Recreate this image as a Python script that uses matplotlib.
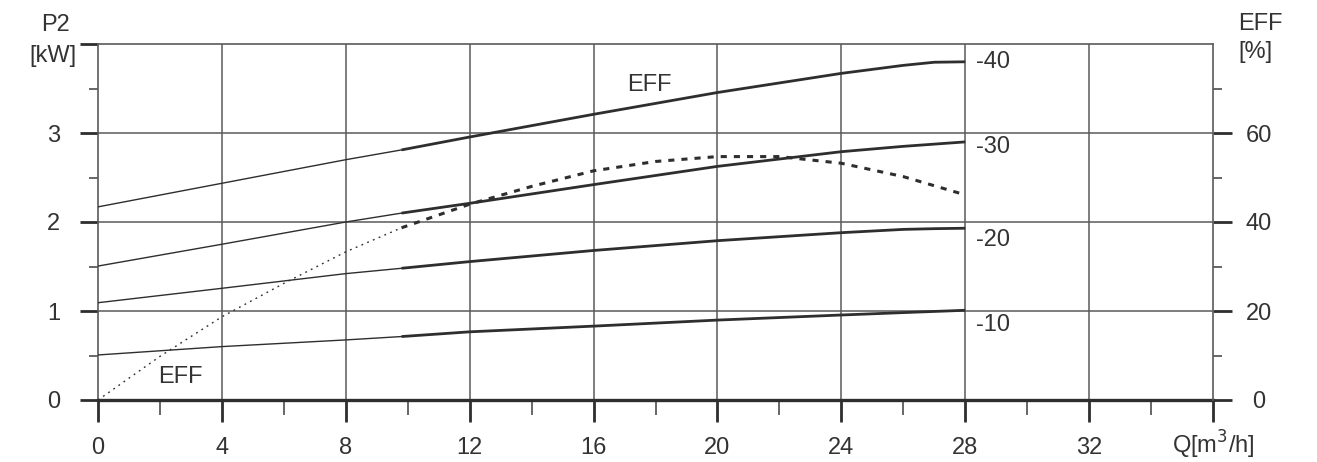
import numpy as np
import matplotlib
matplotlib.use("Agg")
import matplotlib.pyplot as plt
from matplotlib.ticker import FixedLocator

plt.rcParams['font.family'] = ['Liberation Sans', 'DejaVu Sans']

# flow Q [m3/h] where the power curves were read
q_p = [0, 4, 8, 9.8, 12, 16, 20, 24, 26, 27, 28]
p2_40 = [2.17, 2.435, 2.70, 2.81, 2.955, 3.21, 3.455, 3.67, 3.76, 3.795, 3.80]
p2_30 = [1.505, 1.75, 2.00, 2.10, 2.21, 2.42, 2.625, 2.79, 2.85, 2.875, 2.90]
p2_20 = [1.093, 1.255, 1.42, 1.48, 1.555, 1.68, 1.79, 1.88, 1.917, 1.925, 1.93]
p2_10 = [0.506, 0.60, 0.675, 0.713, 0.766, 0.83, 0.898, 0.955, 0.982, 0.995, 1.008]
curve_names = ['-40', '-30', '-20', '-10']
name_y = [3.80, 2.84, 1.80, 0.84]

# efficiency curve [%]
q_eff = [0, 2, 4, 6, 8, 9.8, 12, 14, 16, 18, 20, 22, 24, 26, 28]
eff = [0, 9.8, 18.7, 26.2, 33.3, 38.7, 44.0, 48.0, 51.5, 53.6, 54.7, 54.7, 53.2, 50.2, 46.1]

q_split = 9.8  # start of the working range (thick part)

x_ticks = list(range(0, 37, 4))
x_labels = [str(v) for v in range(0, 33, 4)] + ['']
p_ticks = [0, 1, 2, 3, 4]
p_labels = ['0', '1', '2', '3', '']
eff_ticks = [0, 20, 40, 60]
eff_labels = ['0', '20', '40', '60']

line_c = '#2e2e2e'
grid_c = '#5a5a5a'
text_c = '#333333'
fs = 17

fig = plt.figure(figsize=(13.17, 4.62), dpi=100)
ax = fig.add_axes([98 / 1317, 1 - 400 / 462, (1213 - 98) / 1317, (400 - 44) / 462])
ax.set_xlim(0, 36)
ax.set_ylim(0, 4)

# grid
for xv in x_ticks[1:-1]:
    ax.axvline(xv, color=grid_c, lw=1.1, zorder=1)
for yv in p_ticks[1:-1]:
    ax.axhline(yv, color=grid_c, lw=1.1, zorder=1)

# power curves: thin outside working range, thick inside
q_arr = np.array(q_p)
for vals, name, ny in zip([p2_40, p2_30, p2_20, p2_10], curve_names, name_y):
    v = np.array(vals)
    lo = q_arr <= q_split
    hi = q_arr >= q_split
    ax.plot(q_arr[lo], v[lo], color=line_c, lw=1.0, zorder=3)
    ax.plot(q_arr[hi], v[hi], color=line_c, lw=2.0, zorder=3, solid_capstyle='butt')
    ax.text(28.35, ny, name, fontsize=fs, color=text_c, ha='left', va='center')

# spines
for s in ['left', 'top']:
    ax.spines[s].set_color(grid_c)
    ax.spines[s].set_linewidth(1.2)
ax.spines['bottom'].set_color(line_c)
ax.spines['bottom'].set_linewidth(2.4)
ax.spines['right'].set_visible(False)

ax.xaxis.set_major_locator(FixedLocator(x_ticks))
ax.set_xticklabels(x_labels)
ax.xaxis.set_minor_locator(FixedLocator(list(range(2, 36, 4))))
ax.yaxis.set_major_locator(FixedLocator(p_ticks))
ax.set_yticklabels(p_labels)
ax.yaxis.set_minor_locator(FixedLocator([0.5, 1.5, 2.5, 3.5]))
ax.tick_params(axis='x', which='major', direction='out', length=16, width=2.0,
               color=line_c, labelsize=fs, labelcolor=text_c, pad=11)
ax.tick_params(axis='x', which='minor', direction='out', length=11, width=1.3, color=grid_c)
ax.tick_params(axis='y', which='major', direction='out', length=13, width=2.0,
               color=line_c, labelsize=fs, labelcolor=text_c, pad=14)
ax.tick_params(axis='y', which='minor', direction='out', length=6.5, width=1.3, color=grid_c)

# efficiency on secondary axis
ax2 = ax.twinx()
ax2.set_ylim(0, 80)
for s in ['left', 'top', 'bottom']:
    ax2.spines[s].set_visible(False)
ax2.spines['right'].set_color(grid_c)
ax2.spines['right'].set_linewidth(1.2)
qe = np.array(q_eff)
ev = np.array(eff)
lo = qe <= q_split
hi = qe >= q_split
ax2.plot(qe[lo], ev[lo], color=line_c, lw=1.0, linestyle=(0, (1.3, 3.2)), zorder=3)
ax2.plot(qe[hi], ev[hi], color=line_c, lw=2.2, linestyle=(0, (2.0, 2.3)), zorder=3)
ax2.yaxis.set_major_locator(FixedLocator(eff_ticks))
ax2.set_yticklabels(eff_labels, ha='center')
ax2.yaxis.set_minor_locator(FixedLocator([10, 30, 50, 70]))
ax2.tick_params(axis='y', which='major', direction='out', length=14, width=2.0,
                color=line_c, labelsize=fs, labelcolor=text_c, pad=19)
ax2.tick_params(axis='y', which='minor', direction='out', length=6.5, width=1.3, color=grid_c)

# axis titles and curve labels
fig.text(56 / 1317, 1 - 25 / 462, 'P2', fontsize=fs, color=text_c, ha='center', va='center')
fig.text(53 / 1317, 1 - 56 / 462, '[kW]', fontsize=fs, color=text_c, ha='center', va='center')
fig.text(1238 / 1317, 1 - 24 / 462, 'EFF', fontsize=fs, color=text_c, ha='left', va='center')
fig.text(1238 / 1317, 1 - 52 / 462, '[%]', fontsize=fs, color=text_c, ha='left', va='center')
fig.text(1172 / 1317, 1 - 445 / 462, r'Q[m$^3$/h]', fontsize=fs, color=text_c, ha='left', va='center')
ax.text(17.8, 3.54, 'EFF', fontsize=fs, color=text_c, ha='center', va='center')
ax.text(2.65, 0.26, 'EFF', fontsize=fs, color=text_c, ha='center', va='center')

fig.savefig('out.png', dpi=100)
